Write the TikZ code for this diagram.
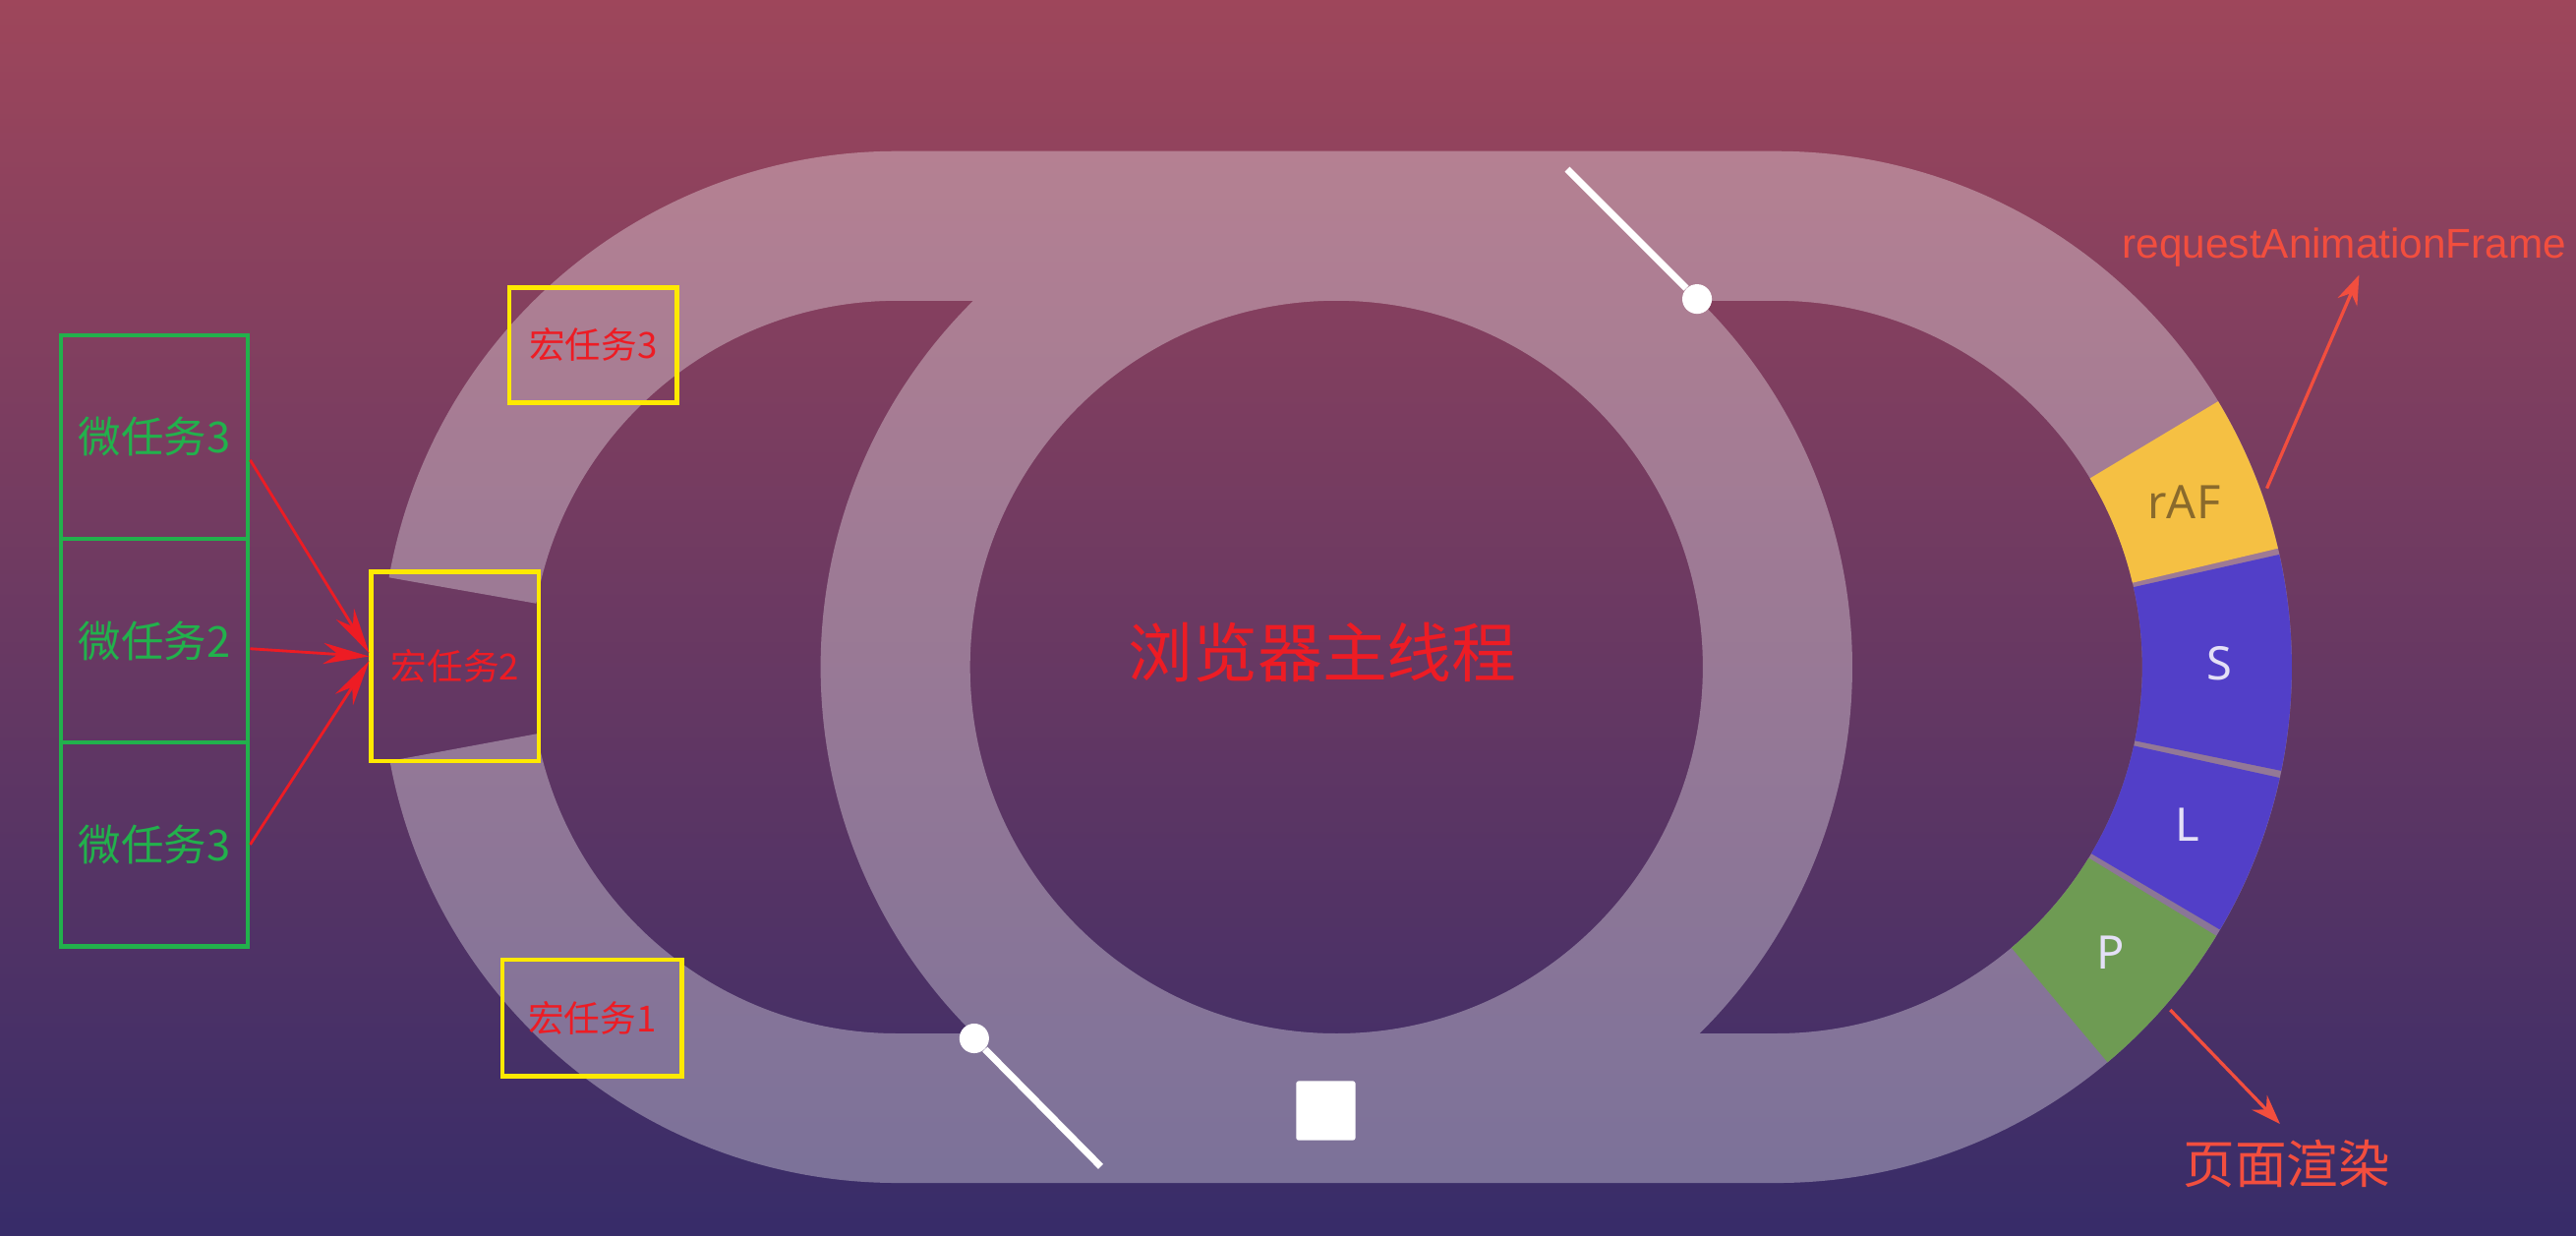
\documentclass[tikz,border=0pt]{standalone}
\usepackage{fontspec}
\setmainfont{Noto Sans CJK SC}
\newfontfamily\segfont{Noto Sans}
\newfontfamily\notefont{Liberation Sans}
\usetikzlibrary{positioning, arrows.meta, calc}

\definecolor{bgtop}{HTML}{9E465B}
\definecolor{bgmid}{HTML}{6E3A68}
\definecolor{bgbot}{HTML}{372C69}
\definecolor{microgreen}{HTML}{22B14C}
\definecolor{macroyellow}{HTML}{FFE900}
\definecolor{taskred}{HTML}{ED1C24}
\definecolor{notered}{HTML}{F24E3E}
\definecolor{rafyellow}{HTML}{F5C043}
\definecolor{rafbrown}{HTML}{8A6A2C}
\definecolor{slblue}{HTML}{523FC8}
\definecolor{pgreen}{HTML}{6E9B53}
\definecolor{seglight}{HTML}{E4E0F6}

\begin{document}
\begin{tikzpicture} [x = 0.025cm, y = 0.025cm, line width = 0.5pt, node distance = 3.1cm,
  micro/.style = {draw = microgreen, line width = 1.8pt, minimum width = 2.85cm, minimum height = 3.1cm, text = microgreen, font = \fontsize{18.5}{20}\selectfont},
  macro/.style = {draw = macroyellow, line width = 1.8pt, text = taskred, font = \fontsize{15.6}{18}\selectfont},
  feed/.style = {taskred, line width = 1.2pt, -{Stealth[length = 0.7cm, width = 0.32cm]}},
  note/.style = {notered, line width = 1.4pt, -{Stealth[length = 0.45cm, width = 0.32cm]}},
  seg/.style = {font = \segfont\fontsize{20}{22}\selectfont, text = seglight},
  knob/.style = {circle, fill = white, minimum size = 0.45cm, inner sep = 0pt},
  stem/.style = {white, line width = 3pt}]

\useasboundingbox (0,0) rectangle (1568,752);
\shade [top color = bgtop, middle color = bgmid, bottom color = bgbot] (0,0) rectangle (1568,752);

\coordinate (lc) at (546,346);
\coordinate (rc) at (1081,346);
\coordinate (oc) at (813.5,346);

\fill [white, fill opacity = 0.33]
  (237.3,288.8) arc [start angle = 190.5, end angle = 270, radius = 314]
  -- (1081,32) arc [start angle = -90, end angle = 90, radius = 314]
  -- (546,660) arc [start angle = 90, end angle = 170, radius = 314]
  -- (326.4,384.7) arc [start angle = 170, end angle = 90, radius = 223]
  -- (1081,569) arc [start angle = 90, end angle = -90, radius = 223]
  -- (546,123) arc [start angle = 270, end angle = 190.5, radius = 223]
  -- cycle
  (1127.5,346) arc [start angle = 0, end angle = 360, radius = 314]
  (1036.5,346) arc [start angle = 360, end angle = 0, radius = 223];

\foreach \a/\b/\col in {13.3/31/rafyellow, -11.6/12.6/slblue, -30.6/-12.4/slblue, -50/-31.4/pgreen}
  \fill [\col] ($(rc)+(\a:223)$) -- ($(rc)+(\a:314)$) arc [start angle = \a, end angle = \b, radius = 314]
    -- ($(rc)+(\b:223)$) arc [start angle = \b, end angle = \a, radius = 223] -- cycle;

\node [seg, text = rafbrown] (raf) at ($(rc)+(22:268)$) {rAF};
\node [seg, font = \segfont\bfseries\fontsize{20}{22}\selectfont] (style) at ($(rc)+(0.5:270)$) {S};
\node [seg, font = \segfont\bfseries\fontsize{20}{22}\selectfont] (layout) at ($(rc)+(-21:268)$) {L};
\node [seg, font = \segfont\bfseries\fontsize{20}{22}\selectfont] (paint) at ($(rc)+(-40.5:268)$) {P};

\node [knob] (knobtop) at (1033,570) {};
\coordinate (stemtop) at (954,649);
\path (stemtop) edge [stem] (knobtop);

\node [knob] (knobbot) at (593,120) {};
\coordinate (stembot) at (670,42);
\path (knobbot) edge [stem] (stembot);

\node [fill = white, minimum size = 0.9cm, inner sep = 0pt, rounded corners = 1pt] (stop) at (807,76) {};

\node [text = taskred, font = \fontsize{28}{30}\selectfont] (mainthread) at (805,355) {浏览器主线程};

\node [macro, minimum width = 2.55cm, minimum height = 1.75cm] (mac3) at (361,542) {宏任务3};
\node [macro, minimum width = 2.55cm, minimum height = 2.875cm] (mac2) at (277,346.5) {宏任务2};
\node [macro, minimum width = 2.725cm, minimum height = 1.775cm] (mac1) at (360.5,132.5) {宏任务1};

\node [micro] (mic3a) at (94,486) {微任务3};
\node [micro] (mic2) [below of = mic3a] {微任务2};
\node [micro] (mic3b) [below of = mic2] {微任务3};

\path ([yshift = -0.35cm] mic3a.east) edge [feed] ([yshift = 0.2cm] mac2.west);
\path ([yshift = -0.12cm] mic2.east) edge [feed] ([yshift = 0.15cm] mac2.west);
\path (mic3b.east) edge [feed] ([yshift = 0.08cm] mac2.west);

\node [text = notered, font = \notefont\fontsize{18}{20}\selectfont, anchor = base] (req) at (1427,595) {requestAnimationFrame};
\node [text = notered, font = \fontsize{22.4}{24}\selectfont] (render) at (1392,44) {页面渲染};

\coordinate (rafedge) at ($(rc)+(20:318)$);
\coordinate (paintedge) at ($(rc)+(-41:318)$);
\path (rafedge) edge [note] ([xshift = 0.225cm] req.south);
\path (paintedge) edge [note, shorten > = 0.15cm] ([xshift = 0cm] render.north);

\end{tikzpicture}
\end{document}
